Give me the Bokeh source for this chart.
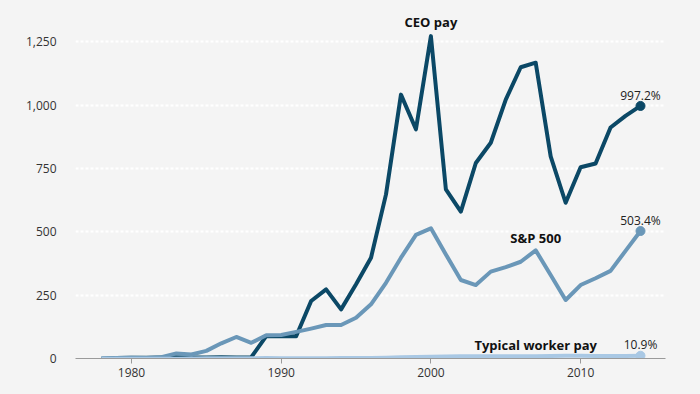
from bokeh.plotting import figure
from bokeh.models import Range1d, FixedTicker, NumeralTickFormatter, ColumnDataSource
from bokeh.core.properties import value
from bokeh.embed import file_html
from bokeh.resources import INLINE

years = list(range(1978, 2015))
ceo_pay = [0, 2, 3, 3, 4, 5, 4, 4, 5, 4, 5, 88, 88, 88, 227, 273, 194, 293, 398, 648,
           1042, 905, 1273, 668, 580, 772, 852, 1022, 1150, 1168, 798, 615, 755, 770,
           912, 958, 997.2]
sp500 = [0, 2, 3, 2, 5, 20, 16, 30, 60, 85, 62, 92, 93, 105, 118, 132, 132, 161, 214, 299,
         398, 488, 514, 411, 310, 290, 343, 361, 382, 427, 330, 231, 290, 317, 346, 425,
         503.4]
worker_pay = [0, -0.5, -1, -1, -0.5, -0.5, 0, 0.5, 1, 1, 1, 1.5, 1, 0.5, 1, 1, 1.5, 1.5,
              2, 3, 4.5, 5.5, 6.5, 7.5, 8.5, 9, 9, 8.5, 8.5, 9, 9.5, 11, 11, 10, 9.5, 10,
              10.9]
y_ticks = [0, 250, 500, 750, 1000, 1250]
x_ticks = [1980, 1990, 2000, 2010]
series_names = ["CEO pay", "S&P 500", "Typical worker pay"]
end_labels = ["997.2%", "503.4%", "10.9%"]

BG = "#f4f4f4"
C_CEO = "#0b4866"
C_SP = "#6a97b8"
C_WK = "#a9c8e4"
FONT = "Open Sans"

p = figure(width=700, height=394, output_backend="svg", toolbar_location=None,
           x_range=Range1d(1976.26, 2015.67), y_range=Range1d(0, 1382),
           min_border_left=75, min_border_right=35, min_border_top=8, min_border_bottom=36)
p.background_fill_color = BG
p.border_fill_color = BG
p.outline_line_color = None

# grid
p.xgrid.grid_line_color = None
p.ygrid.ticker = FixedTicker(ticks=y_ticks[1:])
p.ygrid.grid_line_color = "white"
p.ygrid.grid_line_width = 2
p.ygrid.grid_line_dash = "3 2"

# axes
p.yaxis.ticker = FixedTicker(ticks=y_ticks)
p.yaxis.formatter = NumeralTickFormatter(format="0,0")
p.yaxis.axis_line_color = None
p.yaxis.major_tick_line_color = None
p.yaxis.minor_tick_line_color = None
p.yaxis.major_label_standoff = 13
p.yaxis.major_label_text_font = FONT
p.yaxis.major_label_text_font_size = "12px"
p.yaxis.major_label_text_color = "#333333"

p.xaxis.ticker = FixedTicker(ticks=x_ticks)
p.xaxis.axis_line_color = "#9a9a9a"
p.xaxis.axis_line_width = 1
p.xaxis.major_tick_line_color = "#9a9a9a"
p.xaxis.major_tick_in = 0
p.xaxis.major_tick_out = 5
p.xaxis.minor_tick_line_color = None
p.xaxis.major_label_standoff = 4
p.xaxis.major_label_text_font = FONT
p.xaxis.major_label_text_font_size = "12px"
p.xaxis.major_label_text_color = "#333333"

src = ColumnDataSource(dict(year=years, ceo=ceo_pay, sp=sp500, wk=worker_pay))

p.line("year", "ceo", source=src, line_color=C_CEO, line_width=4, line_join="round")
p.line("year", "sp", source=src, line_color=C_SP, line_width=4, line_join="round")
p.line("year", "wk", source=src, line_color=C_WK, line_width=4, line_join="round")

last = years[-1]
p.scatter([last], [ceo_pay[-1]], size=9, color=C_CEO)
p.scatter([last], [sp500[-1]], size=9, color=C_SP)
p.scatter([last], [worker_pay[-1]], size=9, color=C_WK)

# series name labels
p.text(x=[2000, 2007, 2007], y=[1327, 474, 55], text=series_names,
       text_font=value(FONT), text_font_size="13px", text_font_style="bold",
       text_color="#111111", text_align="center", text_baseline="middle")

# end value labels
p.text(x=[last, last, last], y=[ceo_pay[-1] + 42, sp500[-1] + 42, 55], text=end_labels,
       text_font=value(FONT), text_font_size="12px", text_color="#222222",
       text_align="center", text_baseline="middle")

html = file_html(p, INLINE)
html = html.replace("<head>", "<head><style>html, body { background: #f4f4f4; }</style>", 1)
open("out.html", "w").write(html)
